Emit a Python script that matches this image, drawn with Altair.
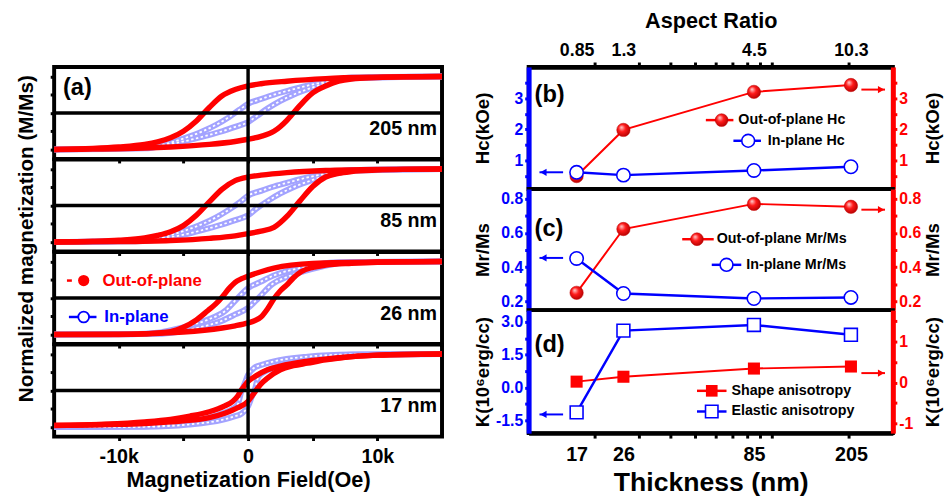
import altair as alt
import pandas as pd

FONT = "Liberation Sans"
RED = "#ff0000"
BLUE = "#0000ff"
LAV = "#a3a3ff"

# ---------------- Panel (a): hysteresis loops, H in kOe, M normalised ----------------
# 205 nm
H205_oop_dn = [15, 10, 6, 3, 1, 0, -1, -2, -3, -4, -5, -6, -7, -8, -10, -12, -15]
M205_oop_dn = [1.0, 0.98, 0.94, 0.87, 0.8, 0.74, 0.64, 0.47, 0.15, -0.22, -0.5, -0.68, -0.79, -0.86, -0.93, -0.97, -1.0]
H205_oop_up = [-15, -12, -10, -8, -6, -3, -1, 0, 1, 2, 3, 3.5, 4, 5, 6, 7, 8, 10, 12, 15]
M205_oop_up = [-1.0, -0.99, -0.98, -0.96, -0.93, -0.86, -0.78, -0.72, -0.64, -0.5, -0.2, 0.0, 0.2, 0.55, 0.74, 0.87, 0.93, 0.97, 0.99, 1.0]
H205_ip_dn = [15, 8, 6.2, 4.5, 3.3, 2, 1, 0, -0.7, -1.5, -2.5, -3.5, -5, -6.5, -8, -15]
M205_ip_dn = [1.0, 0.97, 0.87, 0.74, 0.63, 0.5, 0.38, 0.25, 0.08, -0.12, -0.33, -0.5, -0.7, -0.86, -0.95, -1.0]
H205_ip_up = [-15, -8, -6.2, -4.5, -3.3, -2, -1, 0, 0.7, 1.5, 2.5, 3.5, 5, 6.5, 8, 15]
M205_ip_up = [-1.0, -0.97, -0.87, -0.74, -0.63, -0.5, -0.38, -0.25, -0.08, 0.12, 0.33, 0.5, 0.7, 0.86, 0.95, 1.0]

# 85 nm
H85_oop_dn = [15, 10, 6, 3, 1, 0, -1, -2, -3, -4, -5, -6, -7, -8, -10, -12, -15]
M85_oop_dn = [1.0, 0.99, 0.96, 0.9, 0.83, 0.78, 0.68, 0.45, 0.1, -0.27, -0.55, -0.72, -0.82, -0.89, -0.95, -0.98, -1.0]
H85_oop_up = [-15, -10, -6, -3, -1, 0, 1, 2, 3, 4, 5, 6, 7, 8, 10, 12, 15]
M85_oop_up = [-1.0, -0.99, -0.96, -0.9, -0.83, -0.77, -0.7, -0.6, -0.3, 0.12, 0.52, 0.78, 0.88, 0.93, 0.97, 0.99, 1.0]
H85_ip_dn = [15, 8, 6.2, 4.5, 3.3, 2, 1, 0, -0.6, -1.5, -2.5, -3.5, -5, -6.5, -8, -15]
M85_ip_dn = [1.0, 0.97, 0.88, 0.76, 0.65, 0.52, 0.4, 0.27, 0.1, -0.12, -0.33, -0.5, -0.7, -0.86, -0.95, -1.0]
H85_ip_up = [-15, -8, -6.2, -4.5, -3.3, -2, -1, 0, 0.6, 1.5, 2.5, 3.5, 5, 6.5, 8, 15]
M85_ip_up = [-1.0, -0.97, -0.88, -0.76, -0.65, -0.52, -0.4, -0.27, -0.1, 0.12, 0.33, 0.5, 0.7, 0.86, 0.95, 1.0]

# 26 nm
H26_oop_dn = [15, 10, 5, 2, 1, 0, -0.5, -1.0, -1.5, -2.0, -2.5, -3.1, -4, -5, -6, -8, -10, -15]
M26_oop_dn = [1.0, 0.99, 0.95, 0.82, 0.72, 0.6, 0.53, 0.43, 0.25, 0.03, -0.16, -0.34, -0.6, -0.8, -0.92, -0.98, -1.0, -1.0]
H26_oop_up = [-15, -10, -5, -2, -1, 0, 0.5, 1, 1.5, 2, 2.5, 3, 3.5, 4.1, 5, 6, 8, 10, 15]
M26_oop_up = [-1.0, -0.99, -0.93, -0.82, -0.76, -0.68, -0.62, -0.52, -0.3, -0.02, 0.2, 0.36, 0.55, 0.72, 0.84, 0.9, 0.95, 0.98, 1.0]
H26_ip_dn = [15, 7, 5.5, 4.1, 2, 1, 0, -0.8, -1.8, -3.1, -4.4, -5.7, -7, -9, -15]
M26_ip_dn = [1.0, 0.98, 0.93, 0.83, 0.62, 0.45, 0.27, 0.0, -0.36, -0.59, -0.74, -0.86, -0.95, -0.99, -1.0]
H26_ip_up = [-15, -7, -5.5, -4.1, -2, -1, 0, 0.8, 1.8, 3.1, 4.4, 5.7, 7, 9, 15]
M26_ip_up = [-1.0, -0.98, -0.93, -0.83, -0.62, -0.45, -0.27, 0.0, 0.36, 0.59, 0.74, 0.86, 0.95, 0.99, 1.0]

# 17 nm
H17_oop_dn = [15, 10, 7, 4.5, 2.5, 1.5, 0.5, 0, -0.3, -0.55, -0.8, -1.2, -1.8, -3, -4.5, -6, -8, -11, -15]
M17_oop_dn = [1.0, 0.97, 0.9, 0.8, 0.67, 0.57, 0.38, 0.25, 0.12, 0.0, -0.15, -0.3, -0.42, -0.58, -0.7, -0.79, -0.86, -0.92, -0.95]
H17_oop_up = [-15, -11, -8, -5, -3, -1.8, -0.8, 0, 0.3, 0.6, 1.0, 1.5, 2.5, 3.5, 4.6, 6, 7.2, 10, 15]
M17_oop_up = [-0.96, -0.93, -0.9, -0.83, -0.74, -0.62, -0.47, -0.29, -0.15, 0.0, 0.18, 0.34, 0.57, 0.68, 0.75, 0.84, 0.9, 0.97, 1.0]
H17_ip_dn = [15, 8, 4.6, 2, 1, 0.5, 0, -0.3, -0.5, -0.8, -1.2, -1.8, -3, -4.4, -6, -8, -15]
M17_ip_dn = [1.0, 0.99, 0.93, 0.8, 0.7, 0.63, 0.43, 0.16, 0.0, -0.38, -0.5, -0.6, -0.74, -0.83, -0.92, -0.98, -1.0]
H17_ip_up = [-15, -8, -4.6, -2, -1, -0.5, 0, 0.3, 0.5, 0.8, 1.2, 1.8, 3, 4.4, 6, 8, 15]
M17_ip_up = [-1.0, -0.99, -0.93, -0.8, -0.7, -0.63, -0.43, -0.16, 0.0, 0.38, 0.5, 0.6, 0.74, 0.83, 0.92, 0.98, 1.0]

loop_labels = ["205 nm", "85 nm", "26 nm", "17 nm"]

# ---------------- Panels (b)-(d) ----------------
thickness = [17, 26, 85, 205]
aspect_ratio = ["0.85", "1.3", "4.5", "10.3"]
minor_thickness_ticks = [20, 30, 40, 50, 60, 70, 80, 90, 100, 200]
hc_oop = [0.5, 1.98, 3.2, 3.42]
hc_ip = [0.62, 0.53, 0.68, 0.8]
mr_oop = [0.25, 0.623, 0.77, 0.753]
mr_ip = [0.451, 0.246, 0.217, 0.223]
k_elastic = [-1.14, 2.6, 2.86, 2.41]
k_shape = [0.02, 0.14, 0.34, 0.39]

hc_ticks = [0.5, 1, 1.5, 2, 2.5, 3, 3.5]
mr_ticks = [0.2, 0.3, 0.4, 0.5, 0.6, 0.7, 0.8]
kel_ticks = [-1.5, -0.75, 0, 0.75, 1.5, 2.25, 3.0]
ksh_ticks = [-1, -0.5, 0, 0.5, 1, 1.5]


def loop_df(Hd, Md, Hu, Mu):
    rows = []
    for h, m in zip(Hd, Md):
        rows.append({"H": h, "M": m, "branch": "dn"})
    for h, m in zip(Hu, Mu):
        rows.append({"H": h, "M": m, "branch": "up"})
    return pd.DataFrame(rows)


loops = [
    (loop_df(H205_ip_dn, M205_ip_dn, H205_ip_up, M205_ip_up), loop_df(H205_oop_dn, M205_oop_dn, H205_oop_up, M205_oop_up)),
    (loop_df(H85_ip_dn, M85_ip_dn, H85_ip_up, M85_ip_up), loop_df(H85_oop_dn, M85_oop_dn, H85_oop_up, M85_oop_up)),
    (loop_df(H26_ip_dn, M26_ip_dn, H26_ip_up, M26_ip_up), loop_df(H26_oop_dn, M26_oop_dn, H26_oop_up, M26_oop_up)),
    (loop_df(H17_ip_dn, M17_ip_dn, H17_ip_up, M17_ip_up), loop_df(H17_oop_dn, M17_oop_dn, H17_oop_up, M17_oop_up)),
]

W_A, H_A = 394, 93.5
xa = alt.Scale(domain=[-15, 15], nice=False, zero=False)
ya = alt.Scale(domain=[-1.26, 1.26], nice=False, zero=False)


def one(**kw):
    return pd.DataFrame([kw])


def text_layer(t, x, y, size, color="black", align="left"):
    return alt.Chart(one(t=t)).mark_text(
        align=align, baseline="middle", font=FONT, fontWeight="bold", fontSize=size, color=color
    ).encode(text="t:N", x=alt.value(x), y=alt.value(y))


def loop_panel(i):
    ip_df, oop_df = loops[i]
    last = i == 3
    xkw = dict(values=[-10, -5, 0, 5, 10], tickSize=4, tickWidth=3, tickColor="black",
               domain=False, grid=False, labelFlush=False, labelOverlap=False)
    if last:
        xkw.update(labelExpr="datum.value == 0 ? '0' : (abs(datum.value) == 5 ? '' : datum.value + 'k')",
                   labelFontSize=20, labelPadding=6, labelColor="black",
                   title="Magnetization Field(Oe)", titleFontSize=22, titlePadding=4, titleColor="black")
    else:
        xkw.update(labels=False, title=None)
    ykw = dict(values=[-1, -0.5, 0, 0.5, 1], labels=False, tickSize=4, tickWidth=3, tickColor="black",
               domain=False, grid=False)
    if i == 1:
        ykw.update(title="Normalized magnetization (M/Ms)", titleAngle=270, titleX=-28, titleY=80,
                   titleAlign="center", titleBaseline="middle", titleFontSize=21, titleColor="black")
    else:
        ykw.update(title=None)
    enc = dict(x=alt.X("H:Q", scale=xa, axis=alt.Axis(**xkw)),
               y=alt.Y("M:Q", scale=ya, axis=alt.Axis(**ykw)),
               detail="branch:N")
    l1 = alt.Chart(ip_df).mark_line(color=LAV, strokeWidth=6, interpolate="monotone", clip=True).encode(**enc)
    l2 = alt.Chart(ip_df).mark_line(color="white", strokeWidth=1.8, strokeDash=[2.5, 2.5], interpolate="monotone",
                                    clip=True).encode(**enc)
    l3 = alt.Chart(oop_df).mark_line(color=RED, strokeWidth=5.5, interpolate="monotone", clip=True).encode(**enc)
    zero = one(H=0, M=0)
    r1 = alt.Chart(zero).mark_rule(color="black", strokeWidth=3.5).encode(x=enc["x"])
    r2 = alt.Chart(zero).mark_rule(color="black", strokeWidth=3.5).encode(y=enc["y"])
    layers = [l1, l2, l3, r1, r2, text_layer(loop_labels[i], 389, 63, 20, align="right")]
    if i == 0:
        layers.append(text_layer("(a)", 9, 22, 24))
    if i == 2:
        legend_pts = one(a=1)
        layers += [
            alt.Chart(legend_pts).mark_rule(color=RED, strokeWidth=2.5).encode(
                x=alt.value(13), x2=alt.value(18), y=alt.value(29)),
            alt.Chart(legend_pts).mark_point(shape="circle", filled=True, color=RED, size=130, opacity=1).encode(
                x=alt.value(30), y=alt.value(29)),
            text_layer("Out-of-plane", 49, 30, 17, RED),
            alt.Chart(legend_pts).mark_rule(color=BLUE, strokeWidth=2.5).encode(
                x=alt.value(15), x2=alt.value(43), y=alt.value(66)),
            alt.Chart(legend_pts).mark_point(shape="circle", fill="white", stroke=BLUE, strokeWidth=1.8,
                                             size=120, opacity=1, fillOpacity=1).encode(
                x=alt.value(30), y=alt.value(66)),
            text_layer("In-plane", 51, 66, 17, BLUE),
        ]
    return alt.layer(*layers).properties(width=W_A, height=H_A)


left = alt.vconcat(*[loop_panel(i) for i in range(4)], spacing=0, bounds="flush")

# ---------------- right column ----------------
W_R = 370
xr = alt.Scale(type="log", domain=[11, 300], nice=False)
all_ticks = sorted(thickness + minor_thickness_ticks)
is_lab = "indexof([" + ",".join(str(t) for t in thickness) + "], datum.value) >= 0"
top_expr = " : ".join(f"datum.value == {t} ? '{a}'" for t, a in zip(thickness, aspect_ratio)) + " : ''"
tick_cond = {"condition": {"test": is_lab, "value": 0}, "value": 1}

ax_top = alt.Axis(orient="top", values=all_ticks, labelExpr=top_expr, tickOpacity=tick_cond,
                  tickSize=5, tickWidth=3, tickColor="black", domainColor="black", domainWidth=4.5,
                  labelFontSize=18, labelPadding=3, labelColor="black", labelFlush=False, labelOverlap=False,
                  grid=False, title="Aspect Ratio", titleFontSize=22, titlePadding=9, titleColor="black")
ax_bottom = alt.Axis(orient="bottom", values=all_ticks, labelExpr=f"{is_lab} ? datum.value + '' : ''",
                     tickOpacity=tick_cond, tickSize=5, tickWidth=3, tickColor="black", domainColor="black",
                     domainWidth=4.5, labelFontSize=20, labelPadding=7, labelColor="black", labelFlush=False,
                     labelOverlap=False, grid=False, title="Thickness (nm)", titleFontSize=27, titlePadding=5,
                     titleColor="black")


def yaxis(orient, values, expr, title, color, h):
    return alt.Axis(orient=orient, values=values, labelExpr=expr, title=title, titleAngle=270,
                    titleX=-47 if orient == "left" else 40, titleY=h / 2, titleAlign="center",
                    titleBaseline="middle", titleFontSize=19, titleColor="black",
                    labelColor=color, tickColor=color, domainColor=color, domainWidth=5,
                    tickSize=4, tickWidth=3, labelFontSize=16, labelPadding=2, grid=False,
                    labelFlush=False, labelOverlap=False)


ball = alt.Gradient(gradient="radial",
                    stops=[alt.GradientStop(color="#ffd0d0", offset=0),
                           alt.GradientStop(color="#ff1a1a", offset=0.45),
                           alt.GradientStop(color="#b00000", offset=1)],
                    x1=0.35, y1=0.3, r1=0, x2=0.45, y2=0.45, r2=0.6)


def arrow(x1, x2, y, color, head):
    d = one(a=1)
    tip = x1 if head == "left" else x2
    cx = tip + 4 if head == "left" else tip - 4
    return [
        alt.Chart(d).mark_rule(color=color, strokeWidth=2).encode(x=alt.value(x1), x2=alt.value(x2), y=alt.value(y)),
        alt.Chart(d).mark_point(shape="triangle-" + head, filled=True, color=color, size=55, opacity=1).encode(
            x=alt.value(cx), y=alt.value(y)),
    ]


def legend_row(x1, x2, xs, y, color, label, xt, kind):
    d = one(a=1)
    rows = [alt.Chart(d).mark_rule(color=color, strokeWidth=2.5).encode(x=alt.value(x1), x2=alt.value(x2), y=alt.value(y))]
    if kind == "ball":
        rows.append(alt.Chart(d).mark_point(shape="circle", filled=True, fill=ball, stroke="#c00000", strokeWidth=0.5,
                                            size=170, opacity=1).encode(x=alt.value(xs), y=alt.value(y)))
    elif kind == "open":
        rows.append(alt.Chart(d).mark_point(shape="circle", fill="white", stroke=BLUE, strokeWidth=1.6,
                                            size=170, opacity=1, fillOpacity=1).encode(x=alt.value(xs), y=alt.value(y)))
    elif kind == "sq":
        rows.append(alt.Chart(d).mark_point(shape="square", filled=True, color=RED, size=140, opacity=1).encode(
            x=alt.value(xs), y=alt.value(y)))
    else:
        rows.append(alt.Chart(d).mark_point(shape="square", fill="white", stroke=BLUE, strokeWidth=1.6,
                                            size=160, opacity=1, fillOpacity=1).encode(x=alt.value(xs), y=alt.value(y)))
    rows.append(text_layer(label, xt, y, 14.5))
    return rows


def right_panel(h, xaxis, ip_vals, oop_vals, ldom, rdom, lticks, rticks, lexpr, rexpr, title,
                tag, tag_y, legend, arrows, red_kind, blue_kind):
    df = pd.DataFrame({"t": thickness, "ip": ip_vals, "oop": oop_vals})
    x = alt.X("t:Q", scale=xr, axis=xaxis)
    yl = alt.Y("ip:Q", scale=alt.Scale(domain=ldom, nice=False, zero=False),
               axis=yaxis("left", lticks, lexpr, title, BLUE, h))
    yr = alt.Y("oop:Q", scale=alt.Scale(domain=rdom, nice=False, zero=False),
               axis=yaxis("right", rticks, rexpr, title, RED, h))
    base = alt.Chart(df)
    if red_kind == "ball":
        rpts = base.mark_point(shape="circle", filled=True, fill=ball, stroke="#c00000", strokeWidth=0.5,
                               size=185, opacity=1)
    else:
        rpts = base.mark_point(shape="square", filled=True, color=RED, size=150, opacity=1)
    if blue_kind == "open":
        bpts = base.mark_point(shape="circle", fill="white", stroke=BLUE, strokeWidth=1.6, size=185,
                               opacity=1, fillOpacity=1)
    else:
        bpts = base.mark_point(shape="square", fill="white", stroke=BLUE, strokeWidth=1.6, size=170,
                               opacity=1, fillOpacity=1)
    red = alt.layer(base.mark_line(color=RED, strokeWidth=2).encode(x=x, y=yr), rpts.encode(x=x, y=yr))
    blue = alt.layer(base.mark_line(color=BLUE, strokeWidth=2.5).encode(x=x, y=yl), bpts.encode(x=x, y=yl))
    ann = [text_layer(tag, 6, tag_y, 24)] + legend + arrows
    return alt.layer(red, blue, *ann).resolve_scale(y="independent").properties(width=W_R, height=h)


int_expr = "datum.value % 1 == 0 ? datum.value + '' : ''"
mr_expr = "round(datum.value * 10) % 2 == 0 ? format(datum.value, '.1f') : ''"
kel_expr = "abs(datum.value) % 1.5 == 0 ? replace(format(datum.value, '.1f'), '\u2212', '-') : ''"

pb = right_panel(124, ax_top, hc_ip, hc_oop, [0.085, 4.0], [0.085, 4.0], hc_ticks, hc_ticks, int_expr, int_expr,
                 "Hc(kOe)", "(b)", 29,
                 legend_row(180, 208, 196, 54, RED, "Out-of-plane Hc", 213, "ball")
                 + legend_row(208, 236, 223, 75, BLUE, "In-plane Hc", 243, "open"),
                 arrow(11, 35, 107, BLUE, "left") + arrow(338, 362, 23, RED, "right"), "ball", "open")
pc = right_panel(123, None, mr_ip, mr_oop, [0.149, 0.857], [0.149, 0.857], mr_ticks, mr_ticks, mr_expr, mr_expr,
                 "Mr/Ms", "(c)", 41,
                 legend_row(156, 188, 171, 51, RED, "Out-of-plane Mr/Ms", 191, "ball")
                 + legend_row(186, 216, 201, 77, BLUE, "In-plane Mr/Ms", 221, "open"),
                 arrow(11, 35, 70, BLUE, "left") + arrow(338, 362, 21, RED, "right"), "ball", "open")
pd_ = right_panel(125, ax_bottom, k_elastic, k_shape, [-2.09, 3.54], [-1.24, 1.77], kel_ticks, ksh_ticks,
                  kel_expr, int_expr, "K(10\u2076erg/cc)", "(d)", 36,
                  legend_row(171, 201, 186, 82, RED, "Shape anisotropy", 206, "sq")
                  + legend_row(171, 201, 186, 103, BLUE, "Elastic anisotropy", 206, "osq"),
                  arrow(11, 35, 106, BLUE, "left") + arrow(338, 362, 64, RED, "right"), "sq", "osq")

right = alt.vconcat(pb, pc, pd_, spacing=0, bounds="flush")

chart = alt.hconcat(left, right, spacing=26).properties(
    padding={"left": 13, "top": 4, "right": 5, "bottom": 5}, background="white"
).configure_view(stroke="black", strokeWidth=4).configure_axis(
    labelFont=FONT, titleFont=FONT, labelFontWeight="bold", titleFontWeight="bold"
)

chart.save("out.html", embed_options={"renderer": "svg", "actions": False})
